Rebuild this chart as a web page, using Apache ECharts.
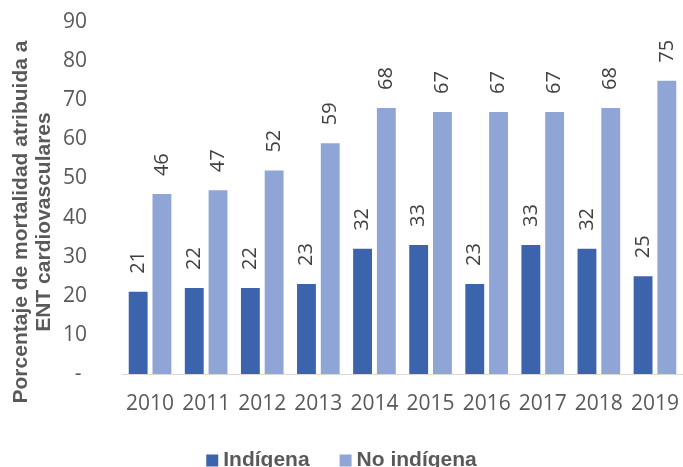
<!DOCTYPE html>
<html>
<head>
<meta charset="utf-8">
<script src="https://cdn.jsdelivr.net/npm/echarts@6/dist/echarts.min.js"></script>
<style>
  html, body { margin: 0; padding: 0; background: #fff; }
  #chart { width: 683px; height: 467px; }
</style>
</head>
<body>
<div id="chart"></div>
<script>
const years = ['2010', '2011', '2012', '2013', '2014', '2015', '2016', '2017', '2018', '2019'];
const indigena = [21, 22, 22, 23, 32, 33, 23, 33, 32, 25];
const noIndigena = [46, 47, 52, 59, 68, 67, 67, 67, 68, 75];

const font = '"Liberation Sans", Arial, sans-serif';
const numFont = '"Open Sans", "Liberation Sans", sans-serif';

const chart = echarts.init(document.getElementById('chart'));

const barLabel = {
    show: true,
    position: 'top',
    rotate: 90,
    align: 'left',
    verticalAlign: 'middle',
    distance: 18,
    color: '#404040',
    fontSize: 20,
    fontFamily: numFont
};

chart.setOption({
    animation: false,
    grid: { left: 122, right: -3, top: 22, bottom: 93 },
    legend: {
        left: 'center',
        top: 445,
        itemWidth: 12,
        itemHeight: 12,
        itemGap: 30,
        icon: 'rect',
        textStyle: { fontFamily: font, fontWeight: 'bold', fontSize: 21, color: '#595959' },
        data: ['Indígena', 'No indígena']
    },
    xAxis: {
        type: 'category',
        data: years,
        axisLine: { lineStyle: { color: '#D9D9D9', width: 1 } },
        axisTick: { show: false },
        axisLabel: { interval: 0, color: '#595959', fontSize: 21, fontFamily: numFont, margin: 20 }
    },
    yAxis: {
        type: 'value',
        min: 0,
        max: 90,
        interval: 10,
        splitLine: { show: false },
        axisLine: { show: false },
        axisTick: { show: false },
        axisLabel: {
            color: '#595959',
            fontSize: 21,
            fontFamily: numFont,
            margin: 35,
            formatter: v => v === 0 ? '- ' : String(v)
        }
    },
    graphic: [{
        type: 'text',
        x: 33,
        y: 222,
        rotation: Math.PI / 2,
        style: {
            text: 'Porcentaje de mortalidad atribuida a\nENT cardiovasculares',
            font: 'bold 21px "Liberation Sans", Arial, sans-serif',
            fill: '#595959',
            align: 'center',
            verticalAlign: 'middle',
            lineHeight: 23
        }
    }],
    series: [
        {
            name: 'Indígena',
            type: 'bar',
            data: indigena,
            barGap: '26%',
            barCategoryGap: '24%',
            itemStyle: { color: '#3C64AD' },
            label: barLabel
        },
        {
            name: 'No indígena',
            type: 'bar',
            data: noIndigena,
            itemStyle: { color: '#8FA5D5' },
            label: barLabel
        }
    ]
});
</script>
</body>
</html>
